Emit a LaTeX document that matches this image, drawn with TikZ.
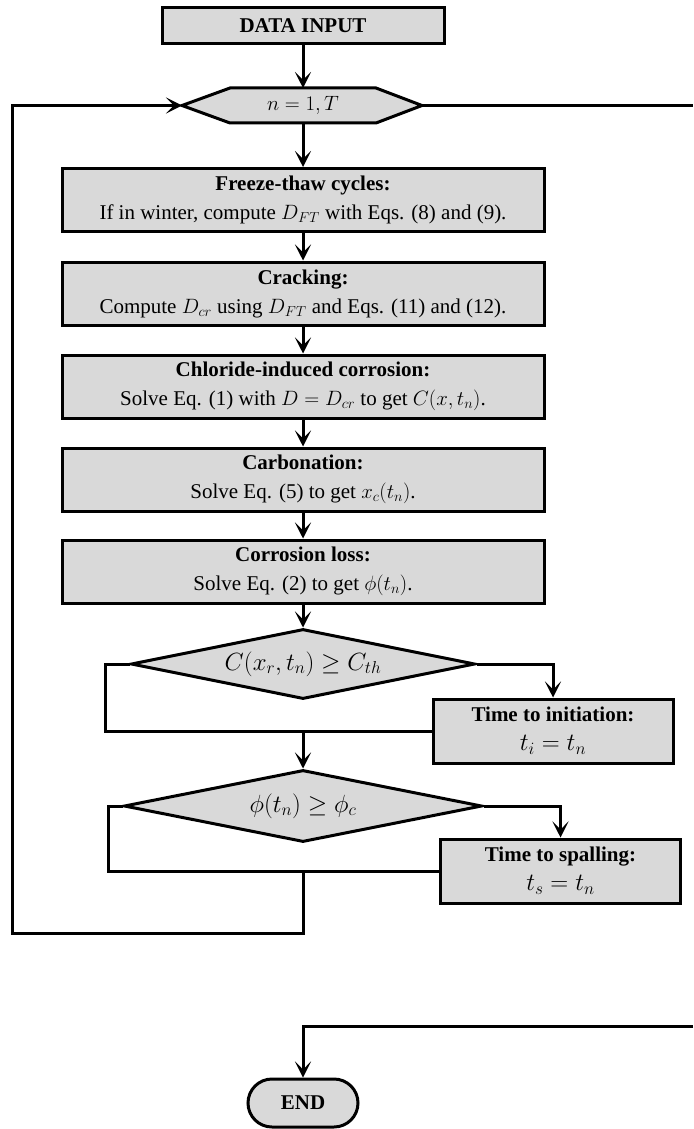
\documentclass[tikz,border=0pt]{standalone}
\usepackage{fontspec}
\setmainfont{Liberation Serif}
\usetikzlibrary{arrows.meta,shapes.geometric,shapes.misc}
\definecolor{boxgray}{RGB}{217,217,217}
\tikzset{
  every node/.style={font=\fontsize{21}{29}\selectfont},
  line/.style={line width=3pt},
  arr/.style={line width=3pt,-{Stealth[length=16pt,width=16pt,inset=8pt]}},
  procbox/.style={draw,line width=3pt,fill=boxgray,rectangle,inner sep=0pt,align=center,minimum width=482pt,minimum height=63pt},
  sidebox/.style={draw,line width=3pt,fill=boxgray,rectangle,inner sep=0pt,align=center,minimum width=240pt,minimum height=64pt},
  decision/.style={draw,line width=3pt,fill=boxgray,diamond,inner sep=0pt,aspect=4.9,font=\fontsize{23}{29}\selectfont},
  hexlabel/.style={inner sep=0pt},
}
\newcommand{\bigmath}[1]{{\fontsize{23}{29}\selectfont$#1$}}
\begin{document}
\begin{tikzpicture}[x=1pt,y=-1pt]
\useasboundingbox (0,0) rectangle (693,1129);
% start
\node[draw,line width=3pt,fill=boxgray,inner sep=0pt,minimum width=282pt,minimum height=36pt] (input) at (303,26) {\textbf{DATA INPUT}};
% hexagon loop header
\coordinate (hexL) at (182,105.5);
\coordinate (hexR) at (422,105.5);
\filldraw[line width=3pt,fill=boxgray,line join=miter] (hexL) -- (230,88) -- (376,88) -- (hexR) -- (376,123) -- (230,123) -- cycle;
\node[hexlabel,minimum width=146pt,minimum height=35pt] (hex) at (303,105.5) {$n=1,T$};
% process boxes
\node[procbox] (b1) at (303,200) {\textbf{Freeze-thaw cycles:}\\If in winter, compute $D_{FT}$ with Eqs. (8) and (9).};
\node[procbox] (b2) at (303,293.5) {\textbf{Cracking:}\\Compute $D_{cr}$ using $D_{FT}$ and Eqs. (11) and (12).};
\node[procbox] (b3) at (303,386.5) {\textbf{Chloride-induced corrosion:}\\Solve Eq. (1) with $D=D_{cr}$ to get $C(x,t_n)$.};
\node[procbox] (b4) at (303,479.5) {\textbf{Carbonation:}\\Solve Eq. (5) to get $x_c(t_n)$.};
\node[procbox] (b5) at (303,571.5) {\textbf{Corrosion loss:}\\Solve Eq. (2) to get $\phi(t_n)$.};
% decisions
\node[decision,minimum width=344pt,minimum height=70pt] (d1) at (303,664) {$C(x_r,t_n)\geq C_{th}$};
\node[sidebox] (init) at (553,731) {\textbf{Time to initiation:}\\\bigmath{t_i=t_n}};
\node[decision,minimum width=358pt,minimum height=72pt] (d2) at (303,806) {$\phi(t_n)\geq\phi_c$};
\node[sidebox] (spall) at (560.5,871) {\textbf{Time to spalling:}\\\bigmath{t_s=t_n}};
% end
\node[draw,line width=3pt,fill=boxgray,rounded rectangle,inner sep=0pt,minimum width=110pt,minimum height=48pt] (end) at (303,1103) {\textbf{END}};
% junction coordinates
\coordinate (j1) at (303,731);
\coordinate (j2) at (303,871);
\coordinate (lb) at (12,933);
\coordinate (rexit) at (693,105.5);
\coordinate (rin) at (693,1026);
% connectors
\draw[arr] (input) -- (hex.north |- 0,88);
\draw[arr] (hex.south |- 0,123) -- (b1);
\draw[arr] (b1) -- (b2);
\draw[arr] (b2) -- (b3);
\draw[arr] (b3) -- (b4);
\draw[arr] (b4) -- (b5);
\draw[arr] (b5) -- (d1);
\draw[arr] (d1.east) -| (init.north);
\draw[line] (d1.west) -- ++(-24,0) |- (init.west);
\draw[arr] (j1) -- (d2.north);
\draw[arr] (d2.east) -| (spall.north);
\draw[line] (d2.west) -- ++(-14,0) |- (spall.west);
\draw[arr] (j2) |- (lb) |- (hexL);
\draw[line] (hexR) -- (rexit);
\draw[arr] (rin) -| (end.north);
\end{tikzpicture}
\end{document}
